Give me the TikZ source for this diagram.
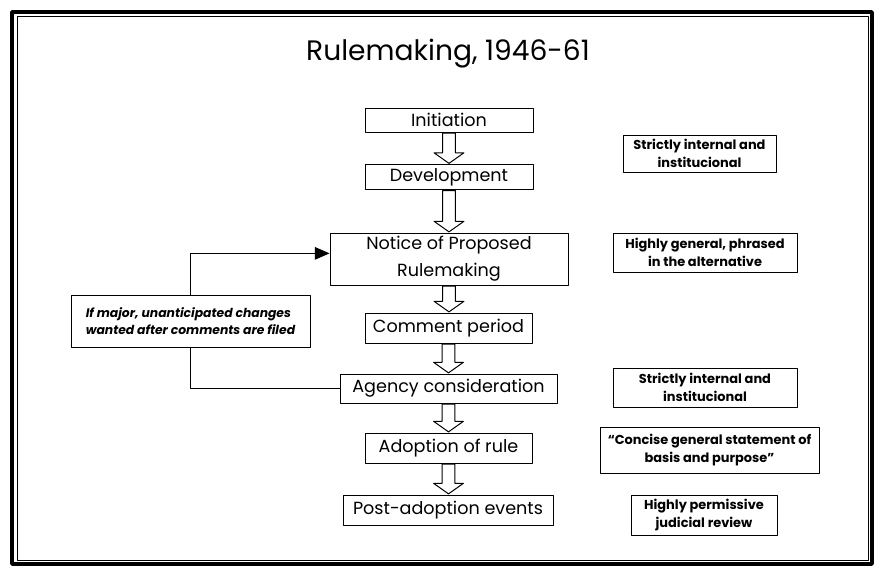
\documentclass[tikz,border=0pt]{standalone}
\usepackage{fontspec}
\setmainfont{Poppins}
\usetikzlibrary{arrows.meta,calc}

\newcommand{\hollowdown}[2]{%
	\draw[hollow] let \p1=(#1.south), \p2=(#2.north) in
		(\x1-4.6pt,\y1-0.5pt) -- (\x1+4.6pt,\y1-0.5pt) -- (\x1+4.6pt,\y2+8pt) -- (\x1+10.6pt,\y2+8pt)
		-- (\x1,\y2+0.5pt) -- (\x1-10.6pt,\y2+8pt) -- (\x1-4.6pt,\y2+8pt) -- cycle;}

\begin{document}
\begin{tikzpicture}[x=0.025cm, y=-0.025cm, line join=round, >={Triangle[length=10.5pt,width=9pt]},
	stagebox/.style={draw, line width=0.6pt, inner sep=0pt, align=center, font=\fontsize{12.5}{19}\selectfont},
	sidebox/.style={draw, line width=0.6pt, inner sep=0pt, align=center, font=\bfseries\fontsize{9.2}{12.5}\selectfont},
	hollow/.style={draw, line width=0.7pt, fill=white}]
		\useasboundingbox (0,0) rectangle (875,569);
		\draw[line width=2.5pt] (12,12) rectangle (872,564);
		\draw[line width=0.5pt] (17,16) rectangle (868,560);
		\node (title) at (448,54) {\fontsize{20}{24}\selectfont Rulemaking, 1946-61};
		\node[stagebox, minimum width=4.2cm, minimum height=0.6cm] (init) at (449,120) {Initiation};
		\node[stagebox, minimum width=4.2cm, minimum height=0.625cm] (dev) at (449,177) {Development};
		\node[stagebox, minimum width=5.95cm, minimum height=1.3cm] (notice) at (449,259) {Notice of Proposed\\Rulemaking};
		\node[stagebox, minimum width=4.175cm, minimum height=0.75cm] (comment) at (448.5,328) {Comment period};
		\node[stagebox, minimum width=5.425cm, minimum height=0.725cm] (agency) at (448.5,388.5) {Agency consideration};
		\node[stagebox, minimum width=4.175cm, minimum height=0.75cm] (adopt) at (448.5,448) {Adoption of rule};
		\node[stagebox, minimum width=5.25cm, minimum height=0.75cm] (post) at (448,510) {Post-adoption events};
		\node[sidebox, minimum width=3.825cm, minimum height=0.925cm] (internalA) at (699.5,153.5) {Strictly internal and\\institucional};
		\node[sidebox, minimum width=4.6cm, minimum height=0.975cm] (general) at (705,252.5) {Highly general, phrased\\in the alternative};
		\node[sidebox, minimum width=4.6cm, minimum height=0.975cm] (internalB) at (705,387.5) {Strictly internal and\\institucional};
		\node[sidebox, minimum width=5.475cm, minimum height=1.15cm] (concise) at (709.5,450) {``Concise general statement of\\basis and purpose''};
		\node[sidebox, minimum width=3.65cm, minimum height=1cm] (review) at (704,515) {Highly permissive\\judicial review};
		\node[sidebox, align=left, font=\bfseries\itshape\fontsize{8.8}{12.5}\selectfont, minimum width=5.975cm, minimum height=1.3cm] (major) at (190.5,321) {If major, unanticipated changes\\wanted after comments are filed};
		\foreach \a/\b in {init/dev, dev/notice, notice/comment, comment/agency, agency/adopt, adopt/post}
			\hollowdown{\a}{\b};
		\draw[line width=0.6pt] (agency.west) -| (major.south);
		\draw[->, line width=0.6pt] (major.north) |- ([yshift=4pt]notice.west);
\end{tikzpicture}
\end{document}
